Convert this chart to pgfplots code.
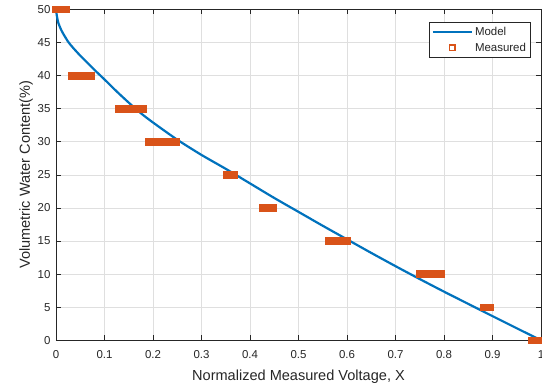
\documentclass[border=0pt]{standalone}
\usepackage{fontspec}
\setmainfont{Liberation Sans}
\usepackage{pgfplots}
\pgfplotsset{compat=1.18}
\definecolor{mblue}{RGB}{0,114,189}
\definecolor{morange}{RGB}{217,83,25}
\definecolor{axgray}{RGB}{38,38,38}
\definecolor{gridgray}{RGB}{223,223,223}
\begin{document}
\begin{tikzpicture}
\begin{axis}[
  scale only axis, width=485bp, height=331bp,
  xmin=0, xmax=1, ymin=0, ymax=50,
  xtick={0,0.1,0.2,0.3,0.4,0.5,0.6,0.7,0.8,0.9,1},
  xticklabels={0,0.1,0.2,0.3,0.4,0.5,0.6,0.7,0.8,0.9,1},
  ytick={0,5,10,15,20,25,30,35,40,45,50},
  grid=major, major grid style={draw=gridgray, line width=0.6bp},
  axis line style={draw=axgray, line width=0.6bp},
  tick style={draw=axgray, line width=0.6bp},
  tick align=inside, major tick length=5bp,
  xtick pos=both, ytick pos=both,
  ticklabel style={font=\fontsize{11.5}{13}\selectfont, text=axgray},
  xticklabel style={yshift=-7bp},
  yticklabel style={xshift=-2bp},
  label style={font=\fontsize{14.6}{16}\selectfont, text=axgray},
  xlabel style={yshift=-4bp},
  ylabel style={yshift=-2bp},
  xlabel={Normalized Measured Voltage, X},
  ylabel={Volumetric Water Content(\%)},
  /pgf/number format/assume math mode=true,
  clip=false,
  legend image code/.code={\draw[mark repeat=2,mark phase=2,#1] plot coordinates {(0bp,0bp) (19.5bp,0bp) (39bp,0bp)};},
  legend style={at={(1,1)}, anchor=north east, xshift=-10.3bp, yshift=-13bp,
    draw=axgray, line width=0.5bp, fill=white,
    font=\fontsize{11.5}{13}\selectfont, text=axgray,
    inner xsep=2.5bp, inner ysep=2.5bp, row sep=2bp,
    cells={anchor=west}},
]
\addplot[mblue, line width=2.2bp, smooth, tension=0.4] coordinates {
(0,50) (0.002,48.9) (0.005,47.9) (0.01,47.0) (0.015,46.3) (0.025,45.1)
(0.035,44.2) (0.05,43.0) (0.065,41.9) (0.08,40.8) (0.1,39.4) (0.125,37.6)
(0.15,35.9) (0.175,34.3) (0.2,32.9) (0.25,30.3) (0.3,28.0) (0.35,25.9)
(0.4,23.7) (0.45,21.5) (0.5,19.4) (0.55,17.3) (0.6,15.25) (0.65,13.2)
(0.7,11.2) (0.75,9.25) (0.8,7.35) (0.85,5.5) (0.9,3.65) (0.95,1.82) (1.0,0)
};
\addlegendentry{Model}
\addplot[only marks, mark=square*, mark size=3.4bp,
  mark options={draw=morange, fill=morange, line width=0.5bp},
  legend image post style={mark=square, mark size=2.8bp, mark options={draw=morange, fill=white, line width=1.6bp}}]
coordinates {
(0,50) (0.005,50) (0.01,50) (0.015,50) (0.02,50)
(0.033,40) (0.038,40) (0.043,40) (0.048,40) (0.053,40) (0.058,40) (0.063,40) (0.068,40) (0.072,40)
(0.129,35) (0.134,35) (0.139,35) (0.144,35) (0.149,35) (0.154,35) (0.159,35) (0.164,35) (0.169,35) (0.174,35) (0.18,35)
(0.191,30) (0.196,30) (0.201,30) (0.206,30) (0.211,30) (0.216,30) (0.221,30) (0.226,30) (0.231,30) (0.236,30) (0.241,30) (0.247,30)
(0.352,25) (0.357,25) (0.362,25) (0.366,25)
(0.427,20) (0.432,20) (0.437,20) (0.442,20) (0.447,20)
(0.562,15) (0.567,15) (0.572,15) (0.577,15) (0.582,15) (0.587,15) (0.592,15) (0.596,15) (0.599,15)
(0.75,10) (0.755,10) (0.76,10) (0.765,10) (0.77,10) (0.775,10) (0.78,10) (0.785,10) (0.79,10) (0.793,10)
(0.882,5) (0.887,5) (0.891,5) (0.895,5)
(0.98,0) (0.985,0) (0.99,0) (0.995,0) (1.0,0)
};
\addlegendentry{Measured}
\end{axis}
\pgfresetboundingbox
\path[use as bounding box] ([xshift=-56bp,yshift=-47.5bp]current axis.south west) rectangle ([xshift=1bp,yshift=9.3bp]current axis.north east);
\end{tikzpicture}
\end{document}
